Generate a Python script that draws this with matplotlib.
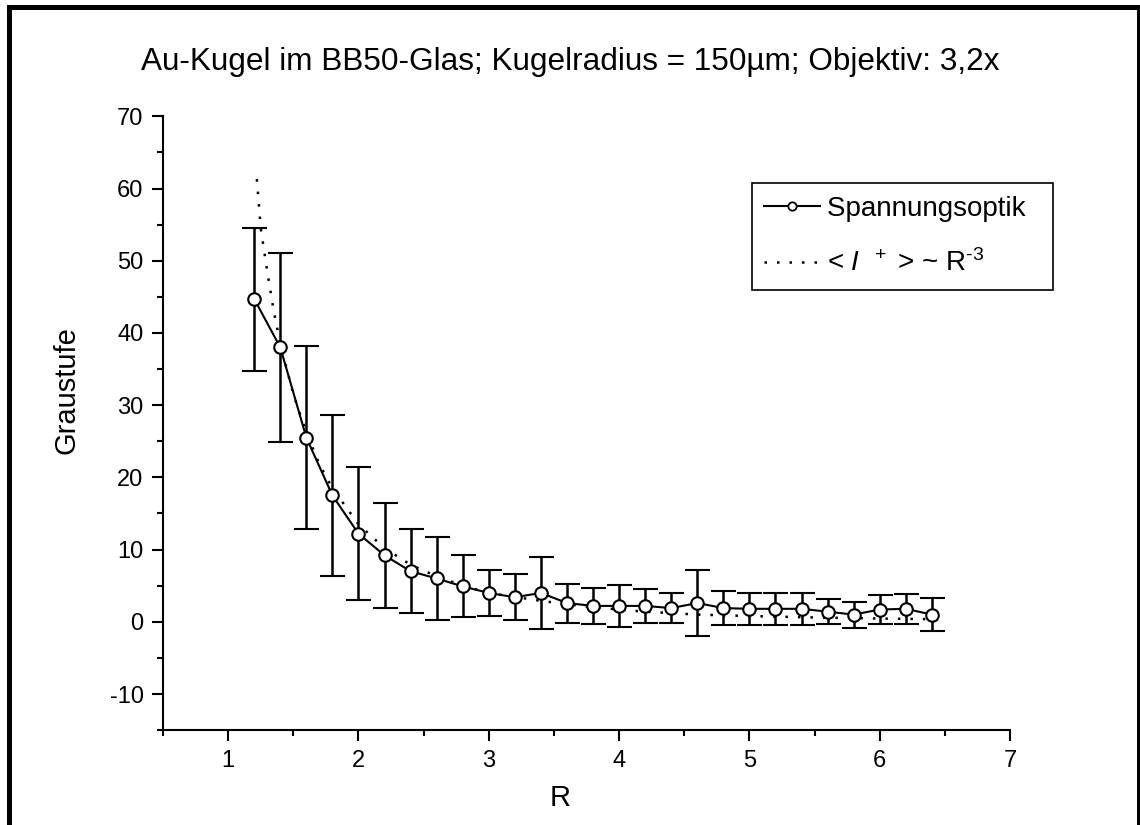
import matplotlib
matplotlib.use('Agg')
import matplotlib.pyplot as plt
from matplotlib.lines import Line2D
from matplotlib.ticker import MultipleLocator

plt.rcParams['font.family'] = ['Liberation Sans', 'DejaVu Sans']
plt.rcParams['mathtext.fontset'] = 'custom'
plt.rcParams['mathtext.rm'] = 'Liberation Sans'
plt.rcParams['mathtext.it'] = 'Liberation Sans:italic'
plt.rcParams['axes.unicode_minus'] = False

# measured data (Spannungsoptik)
r = [1.2, 1.4, 1.6, 1.8, 2.0, 2.2, 2.4, 2.6, 2.8, 3.0, 3.2, 3.4, 3.6, 3.8,
     4.0, 4.2, 4.4, 4.6, 4.8, 5.0, 5.2, 5.4, 5.6, 5.8, 6.0, 6.2, 6.4]
grau = [44.7, 38.0, 25.5, 17.5, 12.2, 9.2, 7.0, 6.0, 4.9, 4.0, 3.4, 4.0, 2.6, 2.2,
        2.2, 2.2, 1.9, 2.6, 1.9, 1.8, 1.8, 1.8, 1.4, 1.0, 1.7, 1.8, 1.0]
err = [9.9, 13.1, 12.7, 11.1, 9.2, 7.3, 5.8, 5.7, 4.3, 3.2, 3.2, 5.0, 2.7, 2.5,
       2.9, 2.4, 2.1, 4.6, 2.4, 2.2, 2.2, 2.2, 1.7, 1.8, 2.0, 2.1, 2.3]

# fit curve <I+> ~ R^-3
r_fit = [1.22, 1.25, 1.3, 1.35, 1.4, 1.5, 1.6, 1.7, 1.8, 2.0, 2.2, 2.4, 2.6, 2.8,
         3.0, 3.4, 3.8, 4.2, 4.6, 5.0, 5.5, 6.0, 6.45]
grau_fit = [61.3, 54.5, 48.5, 43.0, 38.5, 31.5, 26.2, 21.8, 18.5, 13.5, 10.2, 7.9,
            6.3, 5.0, 4.0, 2.9, 2.0, 1.4, 1.0, 0.8, 0.6, 0.45, 0.35]

fig = plt.figure(figsize=(11.4, 8.25), dpi=100)
ax = fig.add_axes([0.143, 0.115, 0.743, 0.744])

ax.plot(r_fit, grau_fit, linestyle=(0, (1, 4)), color='black', linewidth=1.8)
ax.errorbar(r, grau, yerr=err, color='black', linewidth=1.5, elinewidth=1.8,
            capsize=9, capthick=1.8, marker='o', markersize=9,
            markerfacecolor='white', markeredgecolor='black', markeredgewidth=1.5)

ax.set_xlim(0.5, 7)
ax.set_ylim(-15, 70)
ax.xaxis.set_major_locator(MultipleLocator(1))
ax.xaxis.set_minor_locator(MultipleLocator(0.5))
ax.yaxis.set_major_locator(MultipleLocator(10))
ax.yaxis.set_minor_locator(MultipleLocator(5))
ax.spines['top'].set_visible(False)
ax.spines['right'].set_visible(False)
ax.spines['left'].set_linewidth(1.5)
ax.spines['bottom'].set_linewidth(1.5)
ax.tick_params(which='major', direction='out', length=8, width=1.5, labelsize=17, pad=6)
ax.tick_params(which='minor', direction='out', length=4.5, width=1.5)
ax.set_xticks([1, 2, 3, 4, 5, 6, 7])

ax.set_xlabel('R', fontsize=21)
ax.set_ylabel('Graustufe', fontsize=21)
ax.xaxis.set_label_coords(0.469, -0.088)
ax.yaxis.set_label_coords(-0.098, 0.554)
fig.text(0.5, 0.925, 'Au-Kugel im BB50-Glas; Kugelradius = 150µm; Objektiv: 3,2x',
         ha='center', va='center', fontsize=22.7)

h_data = Line2D([], [], color='black', linewidth=1.5, marker='o', markersize=6,
                markerfacecolor='white', markeredgewidth=1.3)
h_fit = Line2D([], [], color='black', linewidth=1.8, linestyle=(0, (1, 4)))
leg = ax.legend([h_data, h_fit],
                ['Spannungsoptik  ', r'< $\mathit{I}^{\ \ +}$ > ~ R$^{\text{-3}}$'],
                loc='upper right', bbox_to_anchor=(1.051, 0.891), fontsize=20,
                numpoints=1, handlelength=2.0, handletextpad=0.25, borderpad=0.45,
                labelspacing=1.0, fancybox=False, framealpha=1,
                edgecolor='black', borderaxespad=0)
leg.get_frame().set_linewidth(1.2)

# outer frame (open at the bottom)
fx0, fx1, fy1 = 8.5 / 1140, 1138.5 / 1140, 1 - 6.5 / 825
fig.add_artist(Line2D([fx0, fx0, fx1, fx1], [0, fy1, fy1, 0], transform=fig.transFigure,
                      color='black', linewidth=3.6, solid_joinstyle='miter'))

fig.savefig('out.png', dpi=100)
